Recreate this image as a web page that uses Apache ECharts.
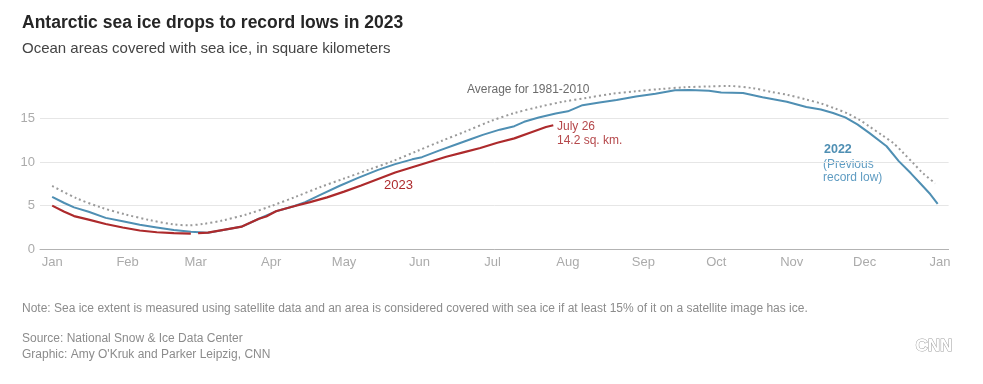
<!DOCTYPE html>
<html>
<head>
<meta charset="utf-8">
<script src="https://cdn.jsdelivr.net/npm/echarts@6/dist/echarts.min.js"></script>
<style>
html,body{margin:0;padding:0;background:#fff;}
#chart{width:983px;height:384px;}
</style>
</head>
<body>
<div id="chart"></div>
<script>
// ---- data (day of year, 0 = Jan 1) ----
const monthLabels = ['Jan','Feb','Mar','Apr','May','Jun','Jul','Aug','Sep','Oct','Nov','Dec','Jan'];
const monthStartDays = [0,31,59,90,120,151,181,212,243,273,304,334,365];
const yTicks = [0,5,10,15];

const daysAvg = [0,10,20,30,40,50,56,62,70,80,90,100,110,120,130,140,150,160,170,180,190,200,210,220,230,240,250,260,270,278,288,296,302,310,316,322,327,332,336,341,346,350,354,358,363];
const iceAvg  = [7.25,5.85,4.8,4.0,3.35,2.85,2.75,2.9,3.3,4.0,4.95,6.0,7.1,8.1,9.1,10.1,11.25,12.4,13.5,14.65,15.6,16.3,16.9,17.35,17.8,18.1,18.35,18.55,18.65,18.7,18.45,18.0,17.7,17.15,16.7,16.1,15.55,14.8,14.05,13.1,12.1,11.0,9.85,8.7,7.55];

const days2022 = [0,5,9,15,22,29,36,43,50,57,64,71,78,85,92,99,104,110,118,126,134,141,148,152,159,166,172,177,184,190,194,200,207,212,218,225,232,240,248,256,262,270,275,284,292,302,310,316,321,326,331,336,343,348,353,357,361,364];
const ice2022  = [6.0,5.3,4.8,4.3,3.6,3.2,2.8,2.5,2.2,2.0,1.9,2.25,2.6,3.5,4.35,4.9,5.4,6.2,7.25,8.2,9.1,9.75,10.3,10.55,11.3,12.0,12.6,13.1,13.7,14.1,14.6,15.1,15.55,15.8,16.5,16.8,17.1,17.5,17.8,18.2,18.25,18.15,17.95,17.9,17.4,16.9,16.3,16.0,15.6,15.1,14.3,13.3,11.8,10.1,8.7,7.5,6.3,5.2];

const days2023 = [0,5,9,15,22,29,36,43,50,57,58,60,64,71,78,85,88,92,99,106,113,120,127,134,141,148,155,162,169,176,183,190,197,203,206];
const ice2023  = [5.0,4.3,3.8,3.4,2.9,2.5,2.15,1.95,1.85,1.8,null,1.85,1.9,2.25,2.6,3.5,3.75,4.35,4.9,5.4,5.95,6.6,7.3,8.05,8.8,9.4,10.0,10.6,11.1,11.6,12.2,12.7,13.4,14.0,14.2];

const pairs = (xs, ys) => xs.map((d, i) => [d, ys[i] === null ? '-' : ys[i]]);

const FONT = '"Liberation Sans", Arial, sans-serif';
const chart = echarts.init(document.getElementById('chart'), null, {renderer: 'canvas'});

chart.setOption({
  animation: false,
  backgroundColor: '#ffffff',
  textStyle: {fontFamily: FONT},
  grid: {left: 40, top: 118.3, width: 908.6, height: 131},
  xAxis: {
    type: 'value', min: -5, max: 368.5,
    axisLine: {show: true, lineStyle: {color: '#b3b3b3', width: 1}},
    axisTick: {show: false},
    splitLine: {show: false},
    axisLabel: {
      customValues: monthStartDays,
      color: '#ababab', fontSize: 13, margin: 7, fontFamily: FONT,
      formatter: v => { const i = monthStartDays.indexOf(Math.round(v)); return i >= 0 ? monthLabels[i] : ''; }
    }
  },
  yAxis: {
    type: 'value', min: yTicks[0], max: yTicks[yTicks.length - 1], interval: 5,
    axisLine: {show: false}, axisTick: {show: false},
    splitLine: {show: true, lineStyle: {color: '#e6e6e6', width: 1}},
    axisLabel: {color: '#ababab', fontSize: 13, margin: 5, fontFamily: FONT}
  },
  series: [
    {name: 'Average for 1981-2010', type: 'line', data: pairs(daysAvg, iceAvg), showSymbol: false, clip: false, smooth: 0.3,
     lineStyle: {color: '#9a9a9a', width: 2, type: [2, 3]}, z: 2},
    {name: '2022', type: 'line', data: pairs(days2022, ice2022), showSymbol: false, clip: false,
     lineStyle: {color: '#4f8fb3', width: 2}, z: 3},
    {name: '2023', type: 'line', data: pairs(days2023, ice2023), showSymbol: false, clip: false, connectNulls: false,
     lineStyle: {color: '#ad2a2c', width: 2.2}, z: 4}
  ],
  graphic: [
    {type: 'text', left: 22, top: 14, style: {text: 'Antarctic sea ice drops to record lows in 2023', font: 'bold 17.5px ' + FONT, fill: '#262626'}},
    {type: 'text', left: 22, top: 41, style: {text: 'Ocean areas covered with sea ice, in square kilometers', font: '15px ' + FONT, fill: '#444444'}},
    {type: 'text', left: 467, top: 84, style: {text: 'Average for 1981-2010', font: '12px ' + FONT, fill: '#6b6b6b'}},
    {type: 'text', left: 557, top: 120, style: {text: 'July 26\n14.2 sq. km.', font: '12px ' + FONT, fill: '#b5484b', lineHeight: 13.5}},
    {type: 'text', left: 384, top: 179, style: {text: '2023', font: '13px ' + FONT, fill: '#ad2a2c'}},
    {type: 'text', left: 824, top: 143, style: {text: '2022', font: 'bold 12.5px ' + FONT, fill: '#4f8fb3'}},
    {type: 'text', left: 823, top: 158, style: {text: '(Previous\nrecord low)', font: '12px ' + FONT, fill: '#5f9cc2', lineHeight: 13}},
    {type: 'text', left: 22, top: 303, style: {text: 'Note: Sea ice extent is measured using satellite data and an area is considered covered with sea ice if at least 15% of it on a satellite image has ice.', font: '12px "Liberation Sans Narrow", ' + FONT, fill: '#8c8c8c'}},
    {type: 'text', left: 22, top: 333, style: {text: 'Source: National Snow & Ice Data Center', font: '12px "Liberation Sans Narrow", ' + FONT, fill: '#8c8c8c'}},
    {type: 'text', left: 22, top: 349, style: {text: "Graphic: Amy O'Kruk and Parker Leipzig, CNN", font: '12px "Liberation Sans Narrow", ' + FONT, fill: '#8c8c8c'}},
    {type: 'text', left: 915, top: 337, style: {text: 'CNN', font: 'bold 17px "Liberation Sans Narrow", ' + FONT, fill: '#ffffff', stroke: '#a0a0a0', lineWidth: 1}}
  ]
});
</script>
</body>
</html>
